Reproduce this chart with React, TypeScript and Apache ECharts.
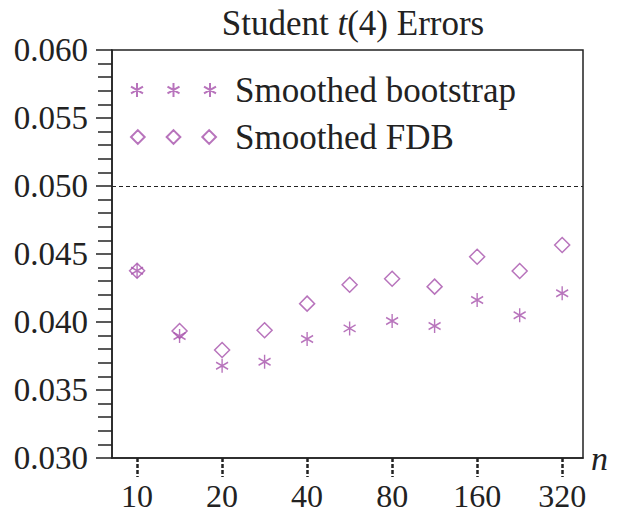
import React, { useEffect, useRef } from "react";
import * as echarts from "echarts";

// sample sizes on a log2 scale (half-doubling steps)
const sampleSizes = [10, 14.14, 20, 28.28, 40, 56.57, 80, 113.1, 160, 226.3, 320];
const xTickLabels = [10, 20, 40, 80, 160, 320];

const bootstrapErr = [0.04377, 0.03897, 0.03679, 0.03708, 0.03875, 0.03953, 0.04007, 0.03971, 0.04162, 0.04049, 0.04211];
const fdbErr = [0.04377, 0.03934, 0.03794, 0.03939, 0.04135, 0.04274, 0.04318, 0.0426, 0.0448, 0.04375, 0.04566];

const yTicks = [0.03, 0.035, 0.04, 0.045, 0.05, 0.055, 0.06];
const nominal = 0.05;

const purple = "#a651ab";
const font = "Liberation Serif";

const star = "M0,-10L0,10M-8.66,-5L8.66,5M-8.66,5L8.66,-5";
const starRow =
  "path://" +
  [0, 52.7, 105.4]
    .map((dx) => `M${dx},-10L${dx},10M${dx - 8.66},-5L${dx + 8.66},5M${dx - 8.66},5L${dx + 8.66},-5`)
    .join("");
const diamondRow =
  "path://" +
  [0, 36.5, 73]
    .map((dx) => `M${dx},-7L${dx + 7},0L${dx},7L${dx - 7},0Z`)
    .join("");

const toX = (n: number) => Math.log2(n / 10);

const App: React.FC = () => {
  const chartRef = useRef<HTMLDivElement>(null);

  useEffect(() => {
    if (!chartRef.current) return;
    const chart = echarts.init(chartRef.current, null, { renderer: "svg" });

    chart.setOption({
      animation: false,
      backgroundColor: "#fff",
      title: {
        text: "Student {i|t}(4) Errors",
        left: 348,
        top: 1,
        textAlign: "center",
        textStyle: {
          fontFamily: font,
          fontSize: 35,
          fontWeight: "normal",
          color: "#222",
          rich: {
            i: { fontFamily: font, fontSize: 35, fontStyle: "italic", color: "#222" },
          },
        },
      },
      legend: {
        orient: "vertical",
        left: 125,
        top: 67,
        itemGap: 11,
        itemWidth: 85,
        itemHeight: 14,
        selectedMode: false,
        textStyle: {
          fontFamily: font,
          fontSize: 35,
          color: "#222",
          lineHeight: 36,
          padding: [0, 0, 0, 14],
        },
        data: [
          { name: "Smoothed bootstrap", icon: starRow },
          { name: "Smoothed FDB", icon: diamondRow },
        ],
      },
      grid: {
        left: 112,
        right: 38,
        top: 50,
        bottom: 61,
        show: true,
        borderColor: "#222",
        borderWidth: 1.5,
        backgroundColor: "transparent",
      },
      xAxis: {
        type: "value",
        min: -0.295,
        max: 5.245,
        name: "n",
        nameLocation: "end",
        nameGap: 8,
        nameTextStyle: {
          fontFamily: font,
          fontSize: 34,
          fontStyle: "italic",
          color: "#222",
          padding: [0, 0, 10, 0],
        },
        axisLine: { show: true, onZero: false, lineStyle: { color: "#222", width: 1.5 } },
        splitLine: { show: false },
        axisTick: {
          show: true,
          customValues: xTickLabels.map(toX),
          length: 19,
          lineStyle: { color: "#222", width: 2.5, type: [4, 2] },
        },
        axisLabel: {
          customValues: xTickLabels.map(toX),
          margin: 22,
          fontFamily: font,
          fontSize: 32,
          color: "#222",
          formatter: (v: number) => {
            const i = xTickLabels.findIndex((n) => Math.abs(toX(n) - v) < 1e-6);
            return i >= 0 ? String(xTickLabels[i]) : "";
          },
        },
      },
      yAxis: {
        type: "value",
        min: yTicks[0],
        max: yTicks[yTicks.length - 1],
        interval: 0.005,
        axisLine: { show: true, onZero: false, lineStyle: { color: "#222", width: 1.5 } },
        splitLine: { show: false },
        axisTick: { show: true, length: 16, lineStyle: { color: "#222", width: 1.5 } },
        minorTick: { show: true, splitNumber: 5, length: 14, lineStyle: { color: "#222", width: 1.5 } },
        axisLabel: {
          margin: 24,
          fontFamily: font,
          fontSize: 33,
          color: "#222",
          formatter: (v: number) => v.toFixed(3),
        },
      },
      series: [
        {
          name: "Smoothed bootstrap",
          type: "scatter",
          symbol: "path://" + star,
          symbolSize: [12, 14],
          itemStyle: { color: "transparent", borderColor: purple, borderWidth: 1.5 },
          data: sampleSizes.map((n, i) => [toX(n), bootstrapErr[i]]),
          markLine: {
            silent: true,
            symbol: "none",
            label: { show: false },
            lineStyle: { color: "#222", type: [4, 3], width: 1.2 },
            data: [{ yAxis: nominal }],
          },
        },
        {
          name: "Smoothed FDB",
          type: "scatter",
          symbol: "diamond",
          symbolSize: 15,
          itemStyle: { color: "transparent", borderColor: purple, borderWidth: 1.5 },
          data: sampleSizes.map((n, i) => [toX(n), fdbErr[i]]),
        },
      ],
    });

    return () => chart.dispose();
  }, []);

  return (
    <div
      ref={chartRef}
      style={{ position: "absolute", left: 0, top: 0, width: 621, height: 519 }}
    />
  );
};

export default App;
